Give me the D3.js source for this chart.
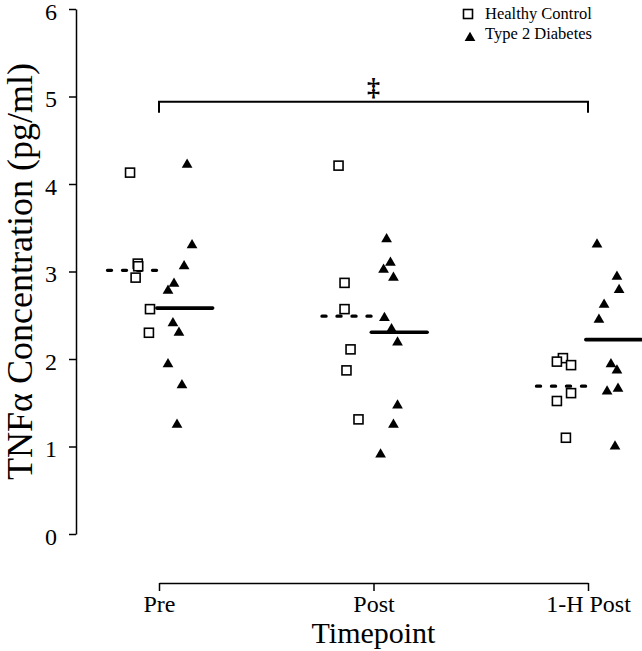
<!DOCTYPE html>
<html>
<head>
<meta charset="utf-8">
<script src="https://cdn.jsdelivr.net/npm/d3@7"></script>
<style>
  html, body { margin: 0; padding: 0; background: #fff; }
  svg { display: block; }
  text { font-family: "Liberation Serif", "Times New Roman", serif; fill: #000; }
</style>
</head>
<body>
<svg id="chart" width="642" height="651"></svg>
<script>
// ---- data ----
const categories = ["Pre", "Post", "1-H Post"];
const yTicks = [0, 1, 2, 3, 4, 5, 6];
const seriesNames = ["Healthy Control", "Type 2 Diabetes"];

// Healthy Control values per timepoint
const healthyValues = [
  [4.13, 3.09, 3.06, 2.93, 2.57, 2.30],
  [4.21, 2.87, 2.57, 2.11, 1.87, 1.31],
  [2.01, 1.97, 1.93, 1.61, 1.52, 1.10]
];
// jittered x positions (timepoint units, 1 = Pre, 2 = Post, 3 = 1-H Post)
const healthyX = [
  [0.865, 0.901, 0.903, 0.891, 0.958, 0.953],
  [1.837, 1.865, 1.865, 1.893, 1.874, 1.930],
  [2.883, 2.855, 2.921, 2.921, 2.855, 2.897]
];

// Type 2 Diabetes values per timepoint
const diabetesValues = [
  [4.22, 3.30, 3.06, 2.86, 2.78, 2.41, 2.30, 1.94, 1.70, 1.25],
  [3.37, 3.10, 3.02, 2.93, 2.47, 2.34, 2.19, 1.47, 1.25, 0.91],
  [3.31, 2.94, 2.79, 2.62, 2.45, 1.94, 1.87, 1.66, 1.63, 1.00]
];
const diabetesX = [
  [1.131, 1.154, 1.117, 1.070, 1.042, 1.065, 1.093, 1.042, 1.107, 1.084],
  [2.061, 2.079, 2.047, 2.093, 2.051, 2.084, 2.112, 2.112, 2.093, 2.033],
  [3.042, 3.135, 3.145, 3.075, 3.051, 3.107, 3.135, 3.140, 3.089, 3.126]
];

// significance bracket between Pre and 1-H Post
const bracketFrom = 1, bracketTo = 3, bracketValue = 4.94, bracketSymbol = "\u2021";

// ---- drawing ----
const svg = d3.select("#chart");
const x = d3.scaleLinear().domain([1, 3]).range([159, 588]);
const y = d3.scaleLinear().domain([0, 6]).range([534, 9]);

// Y axis
const yAxis = svg.append("g")
  .attr("transform", "translate(76,0)")
  .call(d3.axisLeft(y).tickValues(yTicks).tickFormat(d3.format("d")).tickSize(7).tickSizeOuter(0).tickPadding(12));
yAxis.selectAll("path, line").attr("stroke", "#000").attr("stroke-width", 1.5);
yAxis.selectAll("text").attr("font-size", 24).attr("font-family", "Liberation Serif").attr("dy", "0.42em");

// X axis
const xAxis = svg.append("g")
  .attr("transform", "translate(0,583)")
  .call(d3.axisBottom(x).tickValues([1, 2, 3]).tickFormat((d, i) => categories[i]).tickSize(8).tickSizeOuter(0).tickPadding(4));
xAxis.selectAll("path, line").attr("stroke", "#000").attr("stroke-width", 1.5);
xAxis.selectAll("text").attr("font-size", 24).attr("font-family", "Liberation Serif");

// Axis titles
svg.append("text")
  .attr("x", x(2)).attr("y", 643)
  .attr("text-anchor", "middle").attr("font-size", 30)
  .text("Timepoint");
svg.append("text")
  .attr("transform", `translate(20,${(y(0) + y(6)) / 2}) rotate(-90)`)
  .attr("text-anchor", "middle").attr("dominant-baseline", "central").attr("font-size", 36)
  .text("TNF\u03b1 Concentration (pg/ml)");

// Mean lines
const healthyMeans = healthyValues.map(v => d3.mean(v));
const diabetesMeans = diabetesValues.map(v => d3.mean(v));
svg.append("g").selectAll("line").data(healthyMeans).join("line")
  .attr("x1", (d, i) => x(i + 1 - 0.24)).attr("x2", (d, i) => x(i + 1))
  .attr("y1", d => y(d)).attr("y2", d => y(d))
  .attr("stroke", "#000").attr("stroke-width", 3.4)
  .attr("stroke-linecap", "round").attr("stroke-dasharray", "4,11");
svg.append("g").selectAll("line").data(diabetesMeans).join("line")
  .attr("x1", (d, i) => x(i + 1 - 0.01)).attr("x2", (d, i) => x(i + 1 + 0.25))
  .attr("y1", d => y(d)).attr("y2", d => y(d))
  .attr("stroke", "#000").attr("stroke-width", 3.6)
  .attr("stroke-linecap", "round");

// Points
const healthyPts = healthyValues.flatMap((vals, g) => vals.map((v, j) => ({ x: healthyX[g][j], v })));
const diabetesPts = diabetesValues.flatMap((vals, g) => vals.map((v, j) => ({ x: diabetesX[g][j], v })));

svg.append("g").selectAll("rect").data(healthyPts).join("rect")
  .attr("x", d => x(d.x) - 4.5).attr("y", d => y(d.v) - 4.5)
  .attr("width", 9).attr("height", 9)
  .attr("fill", "#fff").attr("stroke", "#000").attr("stroke-width", 1.6);

const tri = d3.symbol().type(d3.symbolTriangle).size(50);
svg.append("g").selectAll("path").data(diabetesPts).join("path")
  .attr("d", tri)
  .attr("transform", d => `translate(${x(d.x)},${y(d.v)})`)
  .attr("fill", "#000");

// Significance bracket
const by = y(bracketValue);
svg.append("path")
  .attr("d", `M${x(bracketFrom)},${by + 11}V${by}H${x(bracketTo)}V${by + 11}`)
  .attr("fill", "none").attr("stroke", "#000").attr("stroke-width", 2);
svg.append("text")
  .attr("x", (x(bracketFrom) + x(bracketTo)) / 2).attr("y", by - 6)
  .attr("text-anchor", "middle").attr("font-size", 26).attr("font-weight", "bold")
  .text(bracketSymbol);

// Legend
const legend = svg.append("g").attr("transform", "translate(468,0)");
legend.append("rect").attr("x", -4.5).attr("y", 14 - 4.5).attr("width", 9).attr("height", 9)
  .attr("fill", "#fff").attr("stroke", "#000").attr("stroke-width", 1.6);
legend.append("path").attr("d", tri).attr("transform", "translate(2,38)").attr("fill", "#000");
legend.append("text").attr("x", 17).attr("y", 19).attr("font-size", 16.5).text(seriesNames[0]);
legend.append("text").attr("x", 17).attr("y", 39).attr("font-size", 16.5).text(seriesNames[1]);
</script>
</body>
</html>
